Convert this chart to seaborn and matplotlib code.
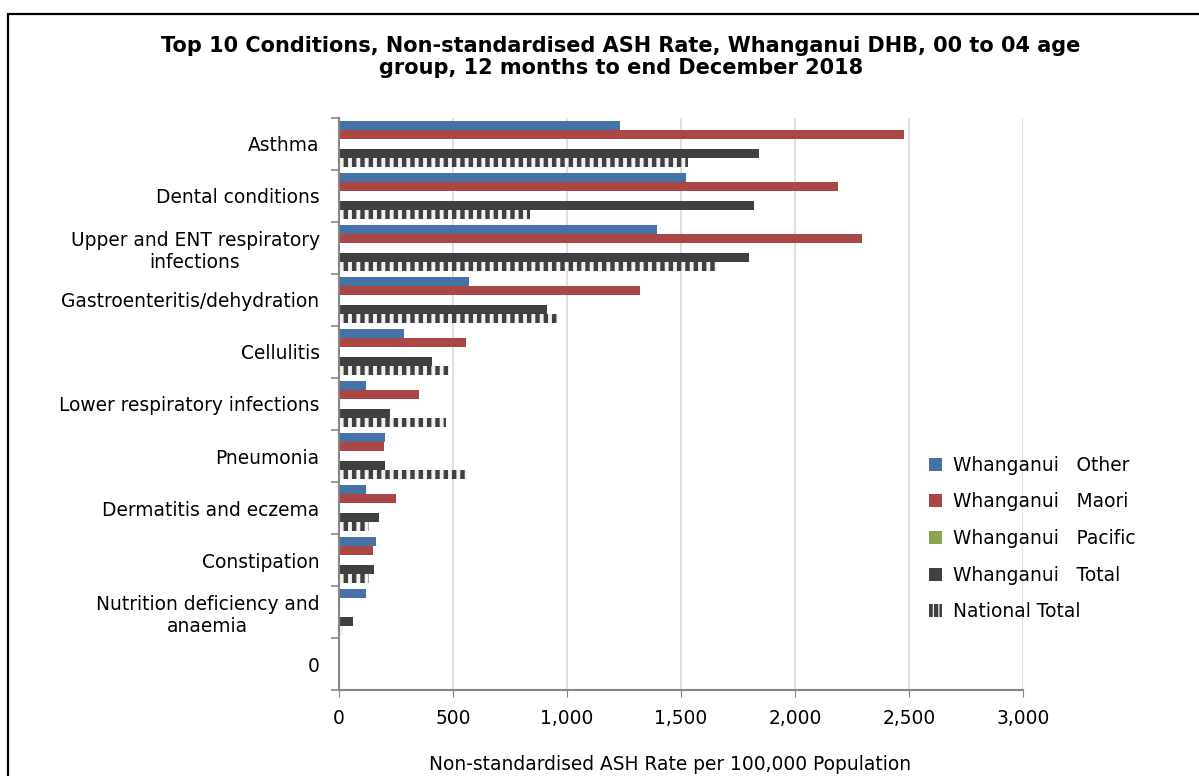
import pandas as pd
import matplotlib
matplotlib.use('Agg')
import matplotlib.pyplot as plt
import matplotlib.patches as mpatches
from matplotlib.ticker import FixedLocator, FuncFormatter
import seaborn as sns
import numpy as np

# categories, top to bottom
conditions = [
    'Asthma',
    'Dental conditions',
    'Upper and ENT respiratory\ninfections',
    'Gastroenteritis/dehydration',
    'Cellulitis',
    'Lower respiratory infections',
    'Pneumonia',
    'Dermatitis and eczema',
    'Constipation',
    'Nutrition deficiency and\nanaemia',
    '0',
]

# rates per 100,000
whanganui_other = [1232, 1522, 1395, 570, 284, 118, 202, 118, 161, 118, 0]
whanganui_maori = [2478, 2189, 2294, 1320, 557, 352, 199, 250, 148, 0, 0]
whanganui_pacific = [0, 0, 0, 0, 0, 0, 0, 0, 0, 0, 0]
whanganui_total = [1842, 1820, 1798, 912, 406, 224, 200, 177, 155, 63, 0]
national_total = [1531, 838, 1658, 960, 484, 469, 560, 132, 132, 19, 0]

series_names = ['Whanganui   Other', 'Whanganui   Maori', 'Whanganui   Pacific',
                'Whanganui   Total', 'National Total']
series_values = [whanganui_other, whanganui_maori, whanganui_pacific,
                 whanganui_total, national_total]
colors = ['#4572A7', '#AA4643', '#89A54E', '#404040', '#f0f0f0']

x_ticks = [0, 500, 1000, 1500, 2000, 2500, 3000]

frames = []
for name, vals in zip(series_names, series_values):
    frames.append(pd.DataFrame({'Condition': conditions, 'Series': name, 'Rate': vals}))
df = pd.concat(frames, ignore_index=True)

plt.rcParams['font.family'] = ['DejaVu Sans']
plt.rcParams['hatch.linewidth'] = 3.2

fig = plt.figure(figsize=(11.99, 7.76), dpi=100)
ax = fig.add_axes([339 / 1199, 1 - 690 / 776, (1023 - 339) / 1199, (690 - 118) / 776])

sns.barplot(data=df, y='Condition', x='Rate', hue='Series', orient='h',
            palette=colors, saturation=1, width=0.9, order=conditions,
            hue_order=series_names, legend=False, ax=ax)

# national total bars: vertical dash hatch
for bar in ax.containers[4]:
    bar.set_facecolor('#f0f0f0')
    bar.set_edgecolor('#404040')
    bar.set_hatch('||')
    bar.set_linewidth(0)
for i in range(4):
    for bar in ax.containers[i]:
        bar.set_linewidth(0)

ax.set_xlim(0, 3000)
ax.set_ylim(len(conditions) - 0.5, -0.5)
ax.set_xticks(x_ticks)
ax.xaxis.set_major_formatter(FuncFormatter(lambda v, p: f'{int(v):,}'))
ax.tick_params(axis='x', labelsize=13.4, length=5, color='#868686', pad=9)
ax.set_yticks(range(len(conditions)))
ax.set_yticklabels(conditions, multialignment='center')
ax.tick_params(axis='y', which='major', length=0, labelsize=13.4, pad=14)
ax.yaxis.set_minor_locator(FixedLocator(np.arange(-0.5, len(conditions), 1.0)))
ax.tick_params(axis='y', which='minor', length=6, color='#868686', width=1.2)

ax.grid(axis='x', color='#d9d9d9', linewidth=1.2)
ax.set_axisbelow(True)
for side in ['top', 'right']:
    ax.spines[side].set_visible(False)
for side in ['left', 'bottom']:
    ax.spines[side].set_color('#868686')
    ax.spines[side].set_linewidth(1.5)
ax.set_xlabel('')
ax.set_ylabel('')

fig.text(621 / 1199, 1 - 57 / 776,
         'Top 10 Conditions, Non-standardised ASH Rate, Whanganui DHB, 00 to 04 age\n'
         'group, 12 months to end December 2018',
         ha='center', va='center', fontsize=15, fontweight='bold', linespacing=1.15)
fig.text(670 / 1199, 1 - 764 / 776, 'Non-standardised ASH Rate per 100,000 Population',
         ha='center', va='center', fontsize=13.4)

handles = []
for name, c in zip(series_names, colors):
    if name == 'National Total':
        handles.append(mpatches.Patch(facecolor='white', edgecolor='#404040',
                                      hatch='|||', linewidth=0, label=name))
    else:
        handles.append(mpatches.Patch(facecolor=c, edgecolor='none', label=name))
fig.legend(handles=handles, loc='upper left', bbox_to_anchor=(912 / 1199, 1 - 439 / 776),
           frameon=False, fontsize=13.4, handlelength=0.7, handleheight=0.7,
           handletextpad=0.6, labelspacing=0.95)

# outer chart border
border = mpatches.Rectangle((8 / 1199, -0.1), 2.0, 1.1 - 14 / 776, transform=fig.transFigure,
                            fill=False, edgecolor='black', linewidth=1.6, clip_on=False)
fig.patches.append(border)

fig.savefig('out.png', dpi=100)
